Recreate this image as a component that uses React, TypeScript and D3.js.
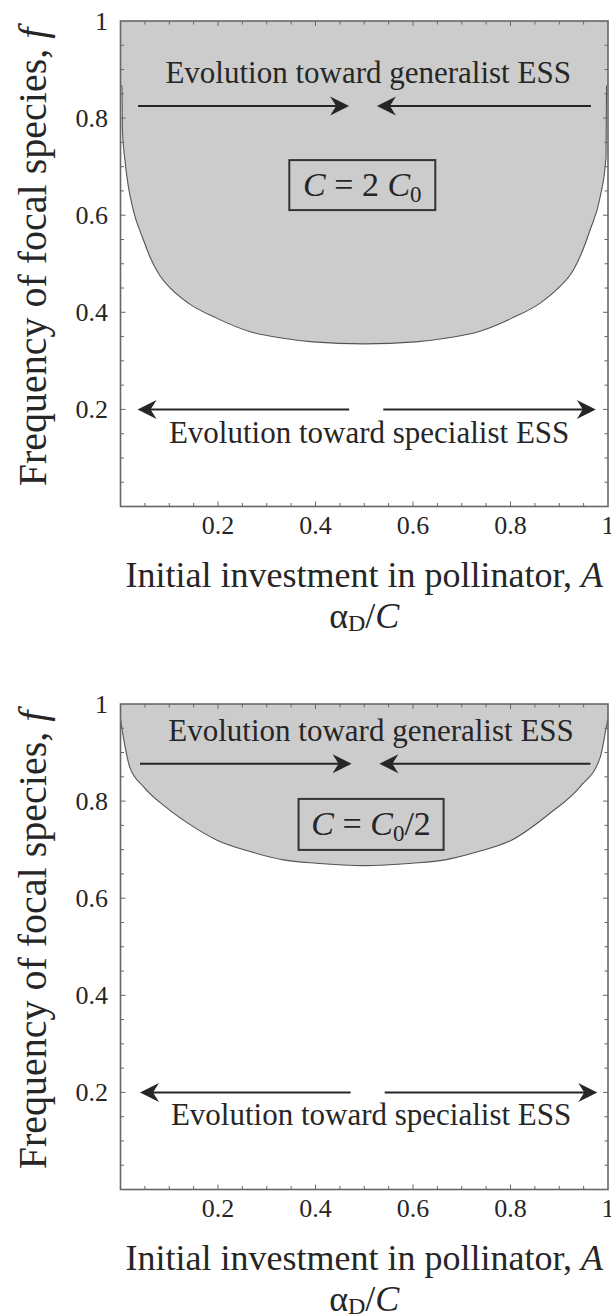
import React from 'react';
import * as d3 from 'd3';

// tick values
const xTickValues = [0.2, 0.4, 0.6, 0.8, 1];
const yTickValues = [0.2, 0.4, 0.6, 0.8, 1];
const minorTickValues = d3.range(1, 20).map(i => i * 0.05);

// boundary of the grey region, C = 2 C0 (top panel)
const topBoundaryA = [0, 0.003, 0.004, 0.009, 0.016, 0.026, 0.047, 0.06, 0.078, 0.105, 0.139, 0.197, 0.266, 0.33, 0.395, 0.5, 0.605, 0.67, 0.734, 0.803, 0.861, 0.895, 0.929, 0.945, 0.963, 0.984, 0.996, 0.997, 1];
const topBoundaryF = [0.868, 0.865, 0.775, 0.714, 0.66, 0.611, 0.549, 0.515, 0.48, 0.447, 0.419, 0.388, 0.36, 0.347, 0.339, 0.335, 0.339, 0.347, 0.36, 0.388, 0.419, 0.447, 0.487, 0.52, 0.569, 0.638, 0.72, 0.865, 0.868];

// boundary of the grey region, C = C0/2 (bottom panel)
const bottomBoundaryA = [0, 0.002, 0.007, 0.019, 0.047, 0.095, 0.142, 0.197, 0.266, 0.334, 0.402, 0.5, 0.598, 0.666, 0.734, 0.803, 0.881, 0.943, 0.984, 0.997, 1];
const bottomBoundaryF = [0.97, 0.955, 0.925, 0.87, 0.83, 0.786, 0.752, 0.72, 0.696, 0.679, 0.672, 0.667, 0.672, 0.679, 0.696, 0.72, 0.775, 0.83, 0.89, 0.955, 0.97];

// arrows: [from A, to A]
const topGeneralistArrows = [[0.036, 0.469], [0.965, 0.526]];
const topSpecialistArrows = [[0.469, 0.035], [0.539, 0.975]];
const bottomGeneralistArrows = [[0.04, 0.474], [0.964, 0.531]];
const bottomSpecialistArrows = [[0.472, 0.04], [0.542, 0.978]];

const generalistLabel = 'Evolution toward generalist ESS';
const specialistLabel = 'Evolution toward specialist ESS';
const yTitle = 'Frequency of focal species, ';
const xTitle = 'Initial investment in pollinator, ';

const W = 611;
const H = 1316;
const left = 120.5;
const right = 608;
const plotH = 485.5;
const FONT = '"Liberation Serif", "Times New Roman", Times, serif';
const INK = '#262626';

const x = d3.scaleLinear().domain([0, 1]).range([left, right]);

function Arrow({ x1, x2, y }: { x1: number; x2: number; y: number }) {
  const dir = Math.sign(x2 - x1);
  const headLen = 19;
  const half = 9.5;
  const notch = 13;
  const head = `M${x2},${y} L${x2 - dir * headLen},${y - half} L${x2 - dir * notch},${y} L${x2 - dir * headLen},${y + half} Z`;
  return (
    <g>
      <line x1={x1} x2={x2 - dir * 12} y1={y} y2={y} stroke={INK} strokeWidth={2} />
      <path d={head} fill={INK} />
    </g>
  );
}

function Panel(props: {
  top: number;
  boundaryA: number[];
  boundaryF: number[];
  generalist: number[][];
  generalistF: number;
  generalistText: [number, number];
  specialist: number[][];
  specialistText: [number, number];
  box: { a: number; f: number; w: number; h: number };
  boxContent: React.ReactNode;
}) {
  const { top } = props;
  const bottom = top + plotH;
  const y = d3.scaleLinear().domain([0, 1]).range([bottom, top]);
  const pts = props.boundaryA.map((a, i) => [a, props.boundaryF[i]] as [number, number]);
  const area = d3.area<[number, number]>().x(d => x(d[0])).y0(y(1)).y1(d => y(d[1])).curve(d3.curveMonotoneX);
  const line = d3.line<[number, number]>().x(d => x(d[0])).y(d => y(d[1])).curve(d3.curveMonotoneX);
  const majorLen = 5;
  const minorLen = 3.5;
  const bx = x(props.box.a);
  const by = y(props.box.f);

  return (
    <g fontFamily={FONT} fill={INK}>
      <path d={area(pts) || ''} fill="#cccccc" stroke="none" />
      <path d={line(pts) || ''} fill="none" stroke="#555" strokeWidth={1.1} />

      {/* ticks on all four sides */}
      {minorTickValues.map(v => {
        const major = yTickValues.some(t => Math.abs(t - v) < 1e-6);
        const len = major ? majorLen : minorLen;
        return (
          <g key={v} stroke="#666" strokeWidth={1}>
            <line x1={x(v)} x2={x(v)} y1={bottom} y2={bottom - len} />
            <line x1={x(v)} x2={x(v)} y1={top} y2={top + len} />
            <line x1={left} x2={left + len} y1={y(v)} y2={y(v)} />
            <line x1={right} x2={right - len} y1={y(v)} y2={y(v)} />
          </g>
        );
      })}
      <rect x={left} y={top} width={right - left} height={plotH} fill="none" stroke="#666" strokeWidth={1.6} />

      {xTickValues.map(v => (
        <text key={v} x={x(v)} y={bottom + 27} textAnchor="middle" fontSize={26}>
          {String(v)}
        </text>
      ))}
      {yTickValues.map(v => (
        <text key={v} x={108} y={y(v)} dy="0.34em" textAnchor="end" fontSize={26}>
          {String(v)}
        </text>
      ))}

      {props.generalist.map((g, i) => (
        <Arrow key={i} x1={x(g[0])} x2={x(g[1])} y={y(props.generalistF)} />
      ))}
      {props.specialist.map((g, i) => (
        <Arrow key={i} x1={x(g[0])} x2={x(g[1])} y={y(0.2)} />
      ))}
      <text x={x(props.generalistText[0])} y={y(props.generalistText[1])} textAnchor="middle" fontSize={31}>
        {generalistLabel}
      </text>
      <text x={x(props.specialistText[0])} y={y(props.specialistText[1])} textAnchor="middle" fontSize={31}>
        {specialistLabel}
      </text>

      <rect
        x={bx - props.box.w / 2}
        y={by - props.box.h / 2}
        width={props.box.w}
        height={props.box.h}
        fill="none"
        stroke="#333"
        strokeWidth={2}
      />
      <text x={bx} y={by + 11} textAnchor="middle" fontSize={34}>
        {props.boxContent}
      </text>

      <text transform={`translate(46,${top + 236}) rotate(-90)`} textAnchor="middle" fontSize={40}>
        {yTitle}
        <tspan fontStyle="italic">f</tspan>
      </text>
      <text x={(left + right) / 2} y={bottom + 80.5} textAnchor="middle" fontSize={36}>
        {xTitle}
        <tspan fontStyle="italic">A</tspan>
      </text>
      <text x={(left + right) / 2} y={bottom + 121} textAnchor="middle" fontSize={36}>
        α<tspan fontSize={24} dy={3}>D</tspan>
        <tspan dy={-3}>/</tspan>
        <tspan fontStyle="italic">C</tspan>
      </text>
    </g>
  );
}

export default function App() {
  return (
    <svg
      width={W}
      height={H}
      viewBox={`0 0 ${W} ${H}`}
      style={{ position: 'absolute', left: 0, top: 0, background: '#fff' }}
    >
      <rect width={W} height={H} fill="#fff" />
      <Panel
        top={21}
        boundaryA={topBoundaryA}
        boundaryF={topBoundaryF}
        generalist={topGeneralistArrows}
        generalistF={0.825}
        generalistText={[0.508, 0.872]}
        specialist={topSpecialistArrows}
        specialistText={[0.51, 0.131]}
        box={{ a: 0.496, f: 0.662, w: 146, h: 50 }}
        boxContent={
          <>
            <tspan fontStyle="italic">C</tspan>
            <tspan> = 2 </tspan>
            <tspan fontStyle="italic">C</tspan>
            <tspan fontSize={23} dy={6}>0</tspan>
          </>
        }
      />
      <Panel
        top={704}
        boundaryA={bottomBoundaryA}
        boundaryF={bottomBoundaryF}
        generalist={bottomGeneralistArrows}
        generalistF={0.877}
        generalistText={[0.514, 0.924]}
        specialist={bottomSpecialistArrows}
        specialistText={[0.514, 0.132]}
        box={{ a: 0.514, f: 0.752, w: 145, h: 51 }}
        boxContent={
          <>
            <tspan fontStyle="italic">C</tspan>
            <tspan> = </tspan>
            <tspan fontStyle="italic">C</tspan>
            <tspan fontSize={23} dy={6}>0</tspan>
            <tspan dy={-6}>/2</tspan>
          </>
        }
      />
    </svg>
  );
}
